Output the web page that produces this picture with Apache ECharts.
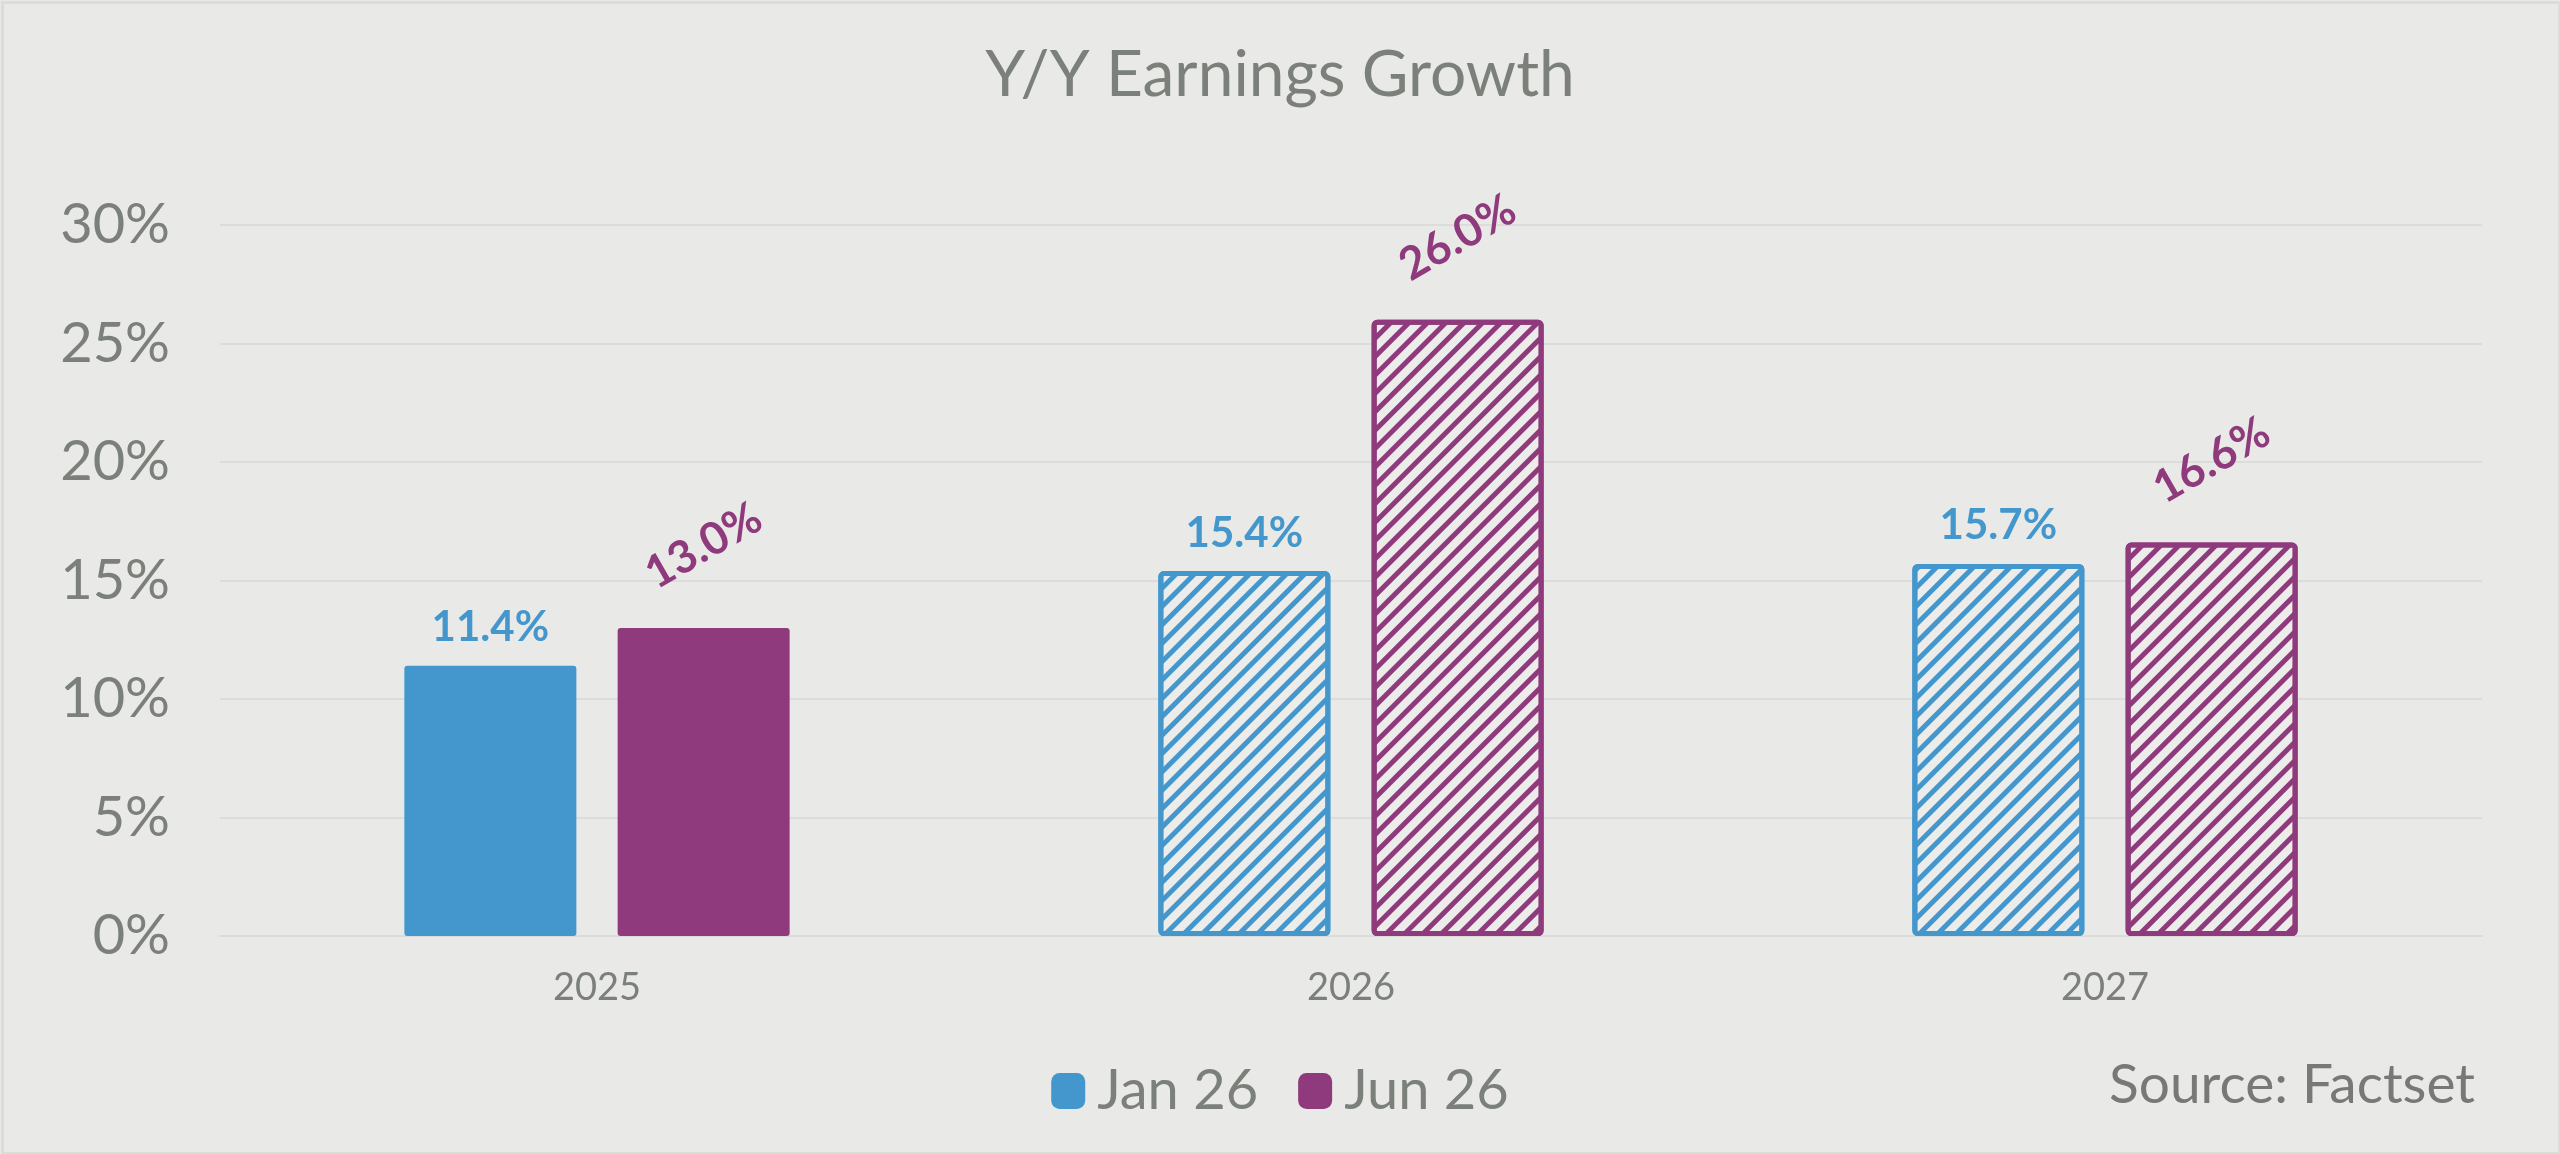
<!DOCTYPE html>
<html>
<head>
<meta charset="utf-8">
<script src="https://cdn.jsdelivr.net/npm/echarts@6/dist/echarts.min.js"></script>
<style>
html,body{margin:0;padding:0;background:#e9e9e7;}
#chart{width:2560px;height:1154px;}
</style>
</head>
<body>
<div id="chart"></div>
<script>
const categories = ['2025', '2026', '2027'];
const seriesNames = ['Jan 26', 'Jun 26'];
const jan26 = [11.4, 15.4, 15.7];
const jun26 = [13.0, 26.0, 16.6];
const hatched = [false, true, true];
const yTicks = { min: 0, max: 30, interval: 5 };
const titleText = 'Y/Y Earnings Growth';
const sourceText = 'Source: Factset';

const BLUE = '#4397cc';
const PURPLE = '#8f3a7c';
const GRAY = '#7b807a';
const FONT = 'Lato';

function makeData(values, color) {
  return values.map((v, i) => {
    if (!hatched[i]) return { value: v };
    return {
      value: v,
      itemStyle: {
        color: '#ececea',
        borderColor: color,
        borderWidth: 5,
        decal: {
          symbol: 'rect',
          symbolSize: 1,
          color: color,
          dashArrayX: [1, 0],
          dashArrayY: [5, 8],
          rotation: -Math.PI / 4
        }
      }
    };
  });
}

const chart = echarts.init(document.getElementById('chart'), null, { renderer: 'canvas' });
chart.setOption({
  backgroundColor: '#e9e9e7',
  animation: false,
  title: {
    text: titleText,
    left: 'center',
    top: 38,
    textStyle: { fontFamily: FONT, fontSize: 64, fontWeight: 'normal', color: GRAY }
  },
  grid: { left: 220, right: 78, top: 225, bottom: 218, containLabel: false },
  legend: {
    data: seriesNames,
    left: 'center',
    top: 1058,
    itemWidth: 34,
    itemHeight: 36,
    itemGap: 40,
    icon: 'roundRect',
    textStyle: { fontFamily: FONT, fontSize: 56, color: GRAY, padding: [0, 0, 0, 7] }
  },
  xAxis: {
    type: 'category',
    data: categories,
    axisLine: { show: true, lineStyle: { color: '#dcdcda', width: 2 } },
    axisTick: { show: false },
    axisLabel: { fontFamily: FONT, fontSize: 38, color: GRAY, margin: 33 }
  },
  yAxis: {
    type: 'value',
    min: yTicks.min,
    max: yTicks.max,
    interval: yTicks.interval,
    axisLine: { show: false },
    axisTick: { show: false },
    splitLine: { lineStyle: { color: '#dcdcda', width: 2 } },
    axisLabel: { fontFamily: FONT, fontSize: 56, color: GRAY, margin: 50, formatter: '{value}%' }
  },
  series: [
    {
      name: seriesNames[0],
      type: 'bar',
      data: makeData(jan26, BLUE),
      barWidth: 172,
      barGap: '24%',
      itemStyle: { color: BLUE, borderRadius: 3 },
      label: {
        show: true,
        position: 'top',
        distance: 17,
        formatter: p => p.value.toFixed(1) + '%',
        fontFamily: FONT,
        fontSize: 42,
        fontWeight: 'bold',
        color: BLUE
      }
    },
    {
      name: seriesNames[1],
      type: 'bar',
      data: makeData(jun26, PURPLE),
      barWidth: 172,
      barGap: '24%',
      itemStyle: { color: PURPLE, borderRadius: 3 },
      label: {
        show: true,
        position: 'top',
        distance: 82,
        rotate: 30,
        align: 'center',
        verticalAlign: 'middle',
        formatter: p => p.value.toFixed(1) + '%',
        fontFamily: FONT,
        fontSize: 45,
        fontWeight: 'bold',
        color: PURPLE
      }
    }
  ],
  graphic: [
    {
      type: 'text',
      right: 85,
      top: 1058,
      style: { text: sourceText, fontFamily: FONT, fontSize: 55, fill: '#787878' }
    },
    {
      type: 'rect',
      left: 0, top: 0,
      shape: { x: 1, y: 1, width: 2557, height: 1151 },
      style: { fill: 'none', stroke: '#dcdcda', lineWidth: 3 },
      silent: true
    }
  ]
});
</script>
</body>
</html>
